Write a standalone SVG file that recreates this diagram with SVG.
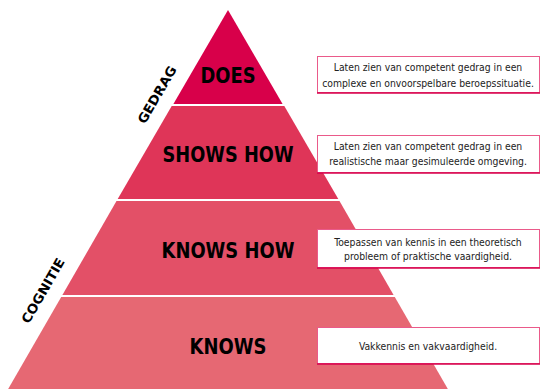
<svg xmlns="http://www.w3.org/2000/svg" width="540" height="389" viewBox="0 0 540 389">
<style>
.lvl{font-family:"DejaVu Sans",sans-serif;font-weight:bold;font-size:22px;fill:#000;text-anchor:middle}
.side{font-family:"DejaVu Sans",sans-serif;font-weight:bold;font-size:13px;fill:#000;text-anchor:middle}
.box{fill:#fff;stroke:#ea5a8a;stroke-width:1}
.shadow{stroke:#d7004b;stroke-width:1.5}
.desc{font-family:"DejaVu Sans Condensed","DejaVu Sans",sans-serif;font-size:10.3px;fill:#222;text-anchor:middle}
</style>
<rect width="540" height="389" fill="#fff"/>
<g id="pyramid">
<g id="does"><polygon points="228,10 282.6,104 173.4,104" fill="#d8004a"/><text class="lvl" x="228" y="83" textLength="55" lengthAdjust="spacingAndGlyphs">DOES</text></g>
<g id="shows-how"><polygon points="171.7,106 284.3,106 338.3,199 117.7,199" fill="#df3558"/><text class="lvl" x="228" y="162" textLength="131" lengthAdjust="spacingAndGlyphs">SHOWS HOW</text></g>
<g id="knows-how"><polygon points="116.5,201 339.5,201 393.6,295 62.4,295" fill="#e35067"/><text class="lvl" x="228" y="258" textLength="133" lengthAdjust="spacingAndGlyphs">KNOWS HOW</text></g>
<g id="knows"><polygon points="61.2,297 394.8,297 449,391 7,391" fill="#e66873"/><text class="lvl" x="228" y="354" textLength="77" lengthAdjust="spacingAndGlyphs">KNOWS</text></g>
</g>
<g id="gedrag"><text class="side" transform="translate(161,97) rotate(-60)" textLength="64" lengthAdjust="spacingAndGlyphs">GEDRAG</text></g>
<g id="cognitie"><text class="side" transform="translate(47,293) rotate(-60)" textLength="73" lengthAdjust="spacingAndGlyphs">COGNITIE</text></g>
<g id="desc-does"><rect class="box" x="317.5" y="56.5" width="222" height="36"/><line class="shadow" x1="317" y1="93" x2="540" y2="93"/>
<text class="desc" x="428" y="71">Laten zien van competent gedrag in een</text><text class="desc" x="428" y="87">complexe en onvoorspelbare beroepssituatie.</text></g>
<g id="desc-shows"><rect class="box" x="317.5" y="135.5" width="222" height="37"/><line class="shadow" x1="317" y1="173" x2="540" y2="173"/>
<text class="desc" x="428" y="150">Laten zien van competent gedrag in een</text><text class="desc" x="428" y="165">realistische maar gesimuleerde omgeving.</text></g>
<g id="desc-knowshow"><rect class="box" x="317.5" y="229.5" width="222" height="38"/><line class="shadow" x1="317" y1="268" x2="540" y2="268"/>
<text class="desc" x="428" y="246">Toepassen van kennis in een theoretisch</text><text class="desc" x="428" y="260">probleem of praktische vaardigheid.</text></g>
<g id="desc-knows"><rect class="box" x="317.5" y="327.5" width="222" height="36"/><line class="shadow" x1="317" y1="364" x2="540" y2="364"/>
<text class="desc" x="428" y="350">Vakkennis en vakvaardigheid.</text></g>
</svg>
